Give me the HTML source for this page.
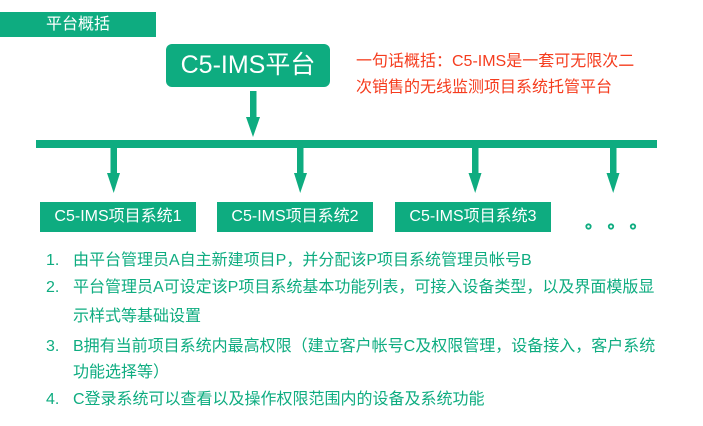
<!DOCTYPE html>
<html><head><meta charset="utf-8"><style>
body{margin:0;width:703px;height:426px;background:#fff;position:relative;overflow:hidden;font-family:"Liberation Sans","Noto Sans CJK SC",sans-serif;}
.a{position:absolute;white-space:nowrap;}
.g{color:#0eac80;font-size:16px;line-height:20px;height:20px;}
.r{color:#f53c1e;font-size:16px;line-height:20px;height:20px;}
.box{position:absolute;background:#0eac80;color:#fff;font-size:16px;text-align:center;}
</style></head><body>
<div class="box" style="left:0;top:12px;width:156px;height:25px;line-height:25px;">平台概括</div>
<div class="box" style="left:166px;top:44px;width:164px;height:43px;line-height:43px;border-radius:6px;font-size:25px;">C5-IMS平台</div>
<div class="a r" style="left:356px;top:52px;">一句话概括：C5-IMS是一套可无限次二</div>
<div class="a r" style="left:356px;top:78px;">次销售的无线监测项目系统托管平台</div>
<svg class="a" style="left:0;top:0" width="703" height="426">
<g fill="#0eac80">
<rect x="250" y="91" width="6.5" height="28"/><polygon points="246,117 260,117 253,137"/>
<rect x="36" y="140" width="621" height="8"/>
<rect x="110.5" y="148" width="6.5" height="27"/><polygon points="107,173 120,173 113.7,193"/>
<rect x="297" y="148" width="6.5" height="27"/><polygon points="294,173 307,173 300.2,193"/>
<rect x="472" y="148" width="6.5" height="27"/><polygon points="468.5,173 481.5,173 475.2,193"/>
<rect x="610" y="148" width="6.5" height="27"/><polygon points="606.5,173 619.5,173 613.2,193"/>
</g>
<g fill="#fff" stroke="#0eac80" stroke-width="1.8">
<circle cx="588.5" cy="226.5" r="2.2"/><circle cx="611" cy="226.5" r="2.2"/><circle cx="633" cy="226.5" r="2.2"/>
</g>
</svg>
<div class="box" style="left:40px;top:202px;width:156px;height:30px;line-height:30px;">C5-IMS项目系统1</div>
<div class="box" style="left:217px;top:202px;width:156px;height:30px;line-height:30px;">C5-IMS项目系统2</div>
<div class="box" style="left:395px;top:202px;width:156px;height:30px;line-height:30px;">C5-IMS项目系统3</div>
<div class="a g" style="left:46px;top:251px;">1.</div>
<div class="a g" style="left:73px;top:251px;">由平台管理员A自主新建项目P，并分配该P项目系统管理员帐号B</div>
<div class="a g" style="left:46px;top:278px;">2.</div>
<div class="a g" style="left:73px;top:278px;">平台管理员A可设定该P项目系统基本功能列表，可接入设备类型，以及界面模版显</div>
<div class="a g" style="left:73px;top:307px;">示样式等基础设置</div>
<div class="a g" style="left:46px;top:337px;">3.</div>
<div class="a g" style="left:73px;top:337px;">B拥有当前项目系统内最高权限（建立客户帐号C及权限管理，设备接入，客户系统</div>
<div class="a g" style="left:73px;top:363px;">功能选择等）</div>
<div class="a g" style="left:46px;top:390px;">4.</div>
<div class="a g" style="left:73px;top:390px;">C登录系统可以查看以及操作权限范围内的设备及系统功能</div>
</body></html>
